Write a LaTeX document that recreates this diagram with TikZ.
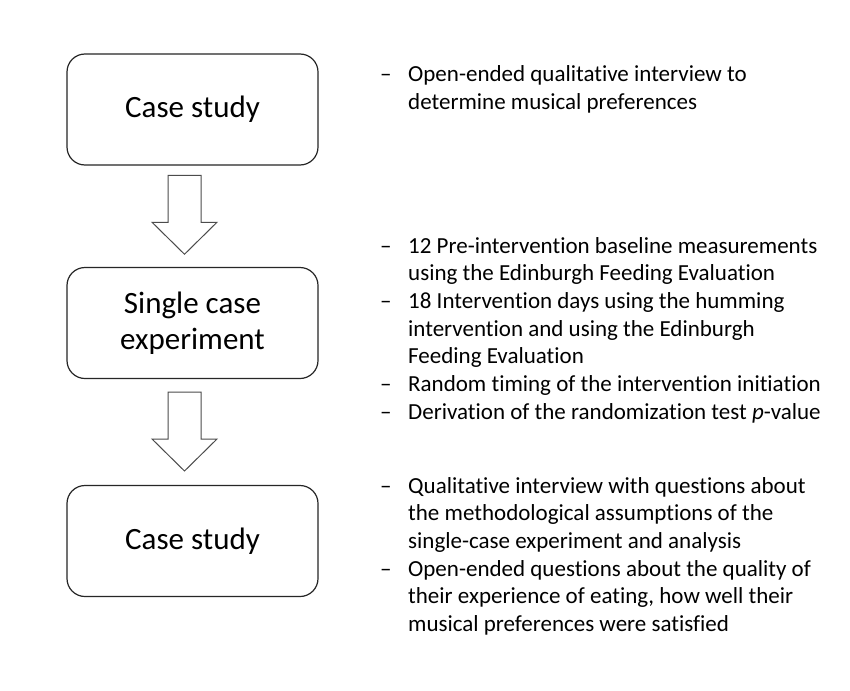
\documentclass[tikz,border=0pt]{standalone}
\usepackage{fontspec}
\setmainfont{Carlito}[Ligatures=NoCommon]
\usetikzlibrary{calc}
\begin{document}
\begin{tikzpicture}[x=1pt,y=-1pt,
  stagebox/.style={draw=black!85, line width=1.2pt, rounded corners=18pt,
    minimum width=251pt, minimum height=111pt, inner sep=0pt, align=center,
    font=\fontsize{31}{36}\selectfont},
  itemlist/.style={anchor=base west, inner sep=0pt,
    font=\fontsize{23}{27.7}\selectfont},
  blockarrow/.style={draw=black!70, line width=1pt, fill=white, line join=miter}
]
\useasboundingbox[fill=white] (0,0) rectangle (850,690);

\node[stagebox] (b1) at (192.5,109.5) {Case study};
\node[stagebox] (b2) at (192.5,323) {Single case\\experiment};
\node[stagebox] (b3) at (192.5,541) {Case study};

\coordinate (m1) at ($(b1.south)!0.5!(b2.north)+(-8,-1.5)$);
\coordinate (m2) at ($(b2.south)!0.5!(b3.north)+(-8,-0.5)$);
\foreach \m in {m1,m2}{
  \draw[blockarrow] (\m) ++(-16.5,-39.5) -- ++(33,0) -- ++(0,47) -- ++(16,0)
    -- ++(-32.5,32) -- ++(-32.5,-32) -- ++(16,0) -- cycle;
}

\node[itemlist] (t1) at (380,82) {\begin{tabular}[t]{@{}p{28pt}@{}l@{}}
–& Open-ended qualitative interview to\\
 & determine musical preferences
\end{tabular}};

\node[itemlist] (t2) at (380,253) {\begin{tabular}[t]{@{}p{28pt}@{}l@{}}
–& 12 Pre-intervention baseline measurements\\
 & using the Edinburgh Feeding Evaluation\\
–& 18 Intervention days using the humming\\
 & intervention and using the Edinburgh\\
 & Feeding Evaluation\\
–& Random timing of the intervention initiation\\
–& Derivation of the randomization test \emph{p}-value
\end{tabular}};

\node[itemlist] (t3) at (380,493) {\begin{tabular}[t]{@{}p{28pt}@{}l@{}}
–& Qualitative interview with questions about\\
 & the methodological assumptions of the\\
 & single-case experiment and analysis\\
–& Open-ended questions about the quality of\\
 & their experience of eating, how well their\\
 & musical preferences were satisfied
\end{tabular}};
\end{tikzpicture}
\end{document}
